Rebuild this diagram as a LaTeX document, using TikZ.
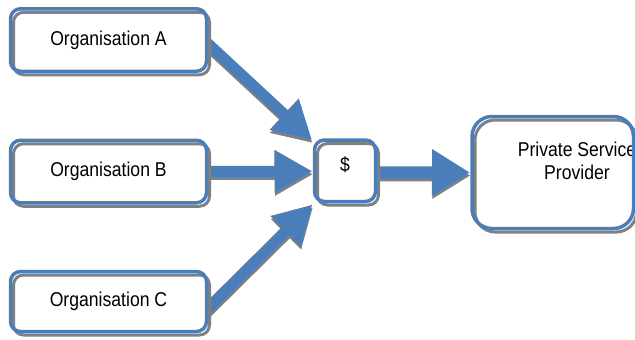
\documentclass[tikz,border=0pt]{standalone}
\usepackage{fontspec}
\setmainfont{Liberation Sans}[FakeStretch=0.88]
\usetikzlibrary{arrows.meta,backgrounds}
\definecolor{boxblue}{RGB}{74,126,187}
\definecolor{shadowgray}{RGB}{128,128,128}
\newcommand{\fatarrow}[3]{%
  \draw[arrowshadow,#1] #2 -- #3;
  \draw[arrowmain,#1] #2 -- #3;}
\newcommand{\boxoutline}[2]{%
  \draw[boxshadow,rounded corners=#2] (#1.north west) rectangle (#1.south east);
  \draw[boxline,rounded corners=#2] (#1.north west) rectangle (#1.south east);}
\begin{document}
\begin{tikzpicture}[x=1pt,y=-1pt,
  txt/.style={font=\fontsize{20}{23}\selectfont},
  plainbox/.style={rectangle, fill=white, inner sep=0pt, outer sep=0pt},
  orgbox/.style={plainbox, rounded corners=10pt, minimum width=196pt, minimum height=62.5pt, txt},
  boxline/.style={draw=boxblue, line width=3.5pt},
  boxshadow/.style={draw=shadowgray, line width=3pt, transform canvas={shift={(3pt,-3.5pt)}}},
  arrowmain/.style={boxblue, line width=11pt, -{Triangle[length=38pt,width=40pt]}},
  arrowshadow/.style={shadowgray, line width=11pt, -{Triangle[length=38pt,width=40pt]}, transform canvas={shift={(0.5pt,-3pt)}}},
  wide/.style={line width=12pt, -{Triangle[length=38pt,width=44pt]}}
]
\useasboundingbox (0,0) rectangle (635,340);

% boxes (white fill + text)
\node[orgbox] (A) at (108.5,40) {Organisation A};
\node[orgbox] (B) at (108.5,171.5) {Organisation B};
\node[orgbox, minimum height=60pt] (C) at (108.5,301.5) {Organisation C};
\node[plainbox, rounded corners=10pt, minimum width=61pt, minimum height=61.5pt] (D) at (345,170.75) {};
\node[plainbox, rounded corners=20pt, minimum width=161.5pt, minimum height=112pt] (P) at (552.75,172.5) {};

\node[txt, inner sep=0pt] (Dtext) at (345,165) {\$};
\node[txt, inner sep=0pt, align=center] (Ptext) at (577,161) {Private Service\\Provider};

% outlines with shadow
\boxoutline{A}{10pt}
\boxoutline{B}{10pt}
\boxoutline{C}{10pt}
\boxoutline{D}{10pt}
\boxoutline{P}{20pt}

% arrows behind the boxes
\begin{pgfonlayer}{background}
\fatarrow{}{([shift={(-10pt,7pt)}]A.east)}{([xshift=-2.5pt]D.north west)}
\fatarrow{}{([xshift=-10pt]B.east)}{([shift={(-2pt,-0.5pt)}]D.west)}
\fatarrow{}{([shift={(-10pt,-18pt)}]C.east)}{([shift={(-2pt,-3pt)}]D.south west)}
\fatarrow{wide}{([shift={(-10pt,-1.5pt)}]D.east)}{([shift={(-2pt,-0pt)}]P.west)}
\end{pgfonlayer}
\end{tikzpicture}
\end{document}
